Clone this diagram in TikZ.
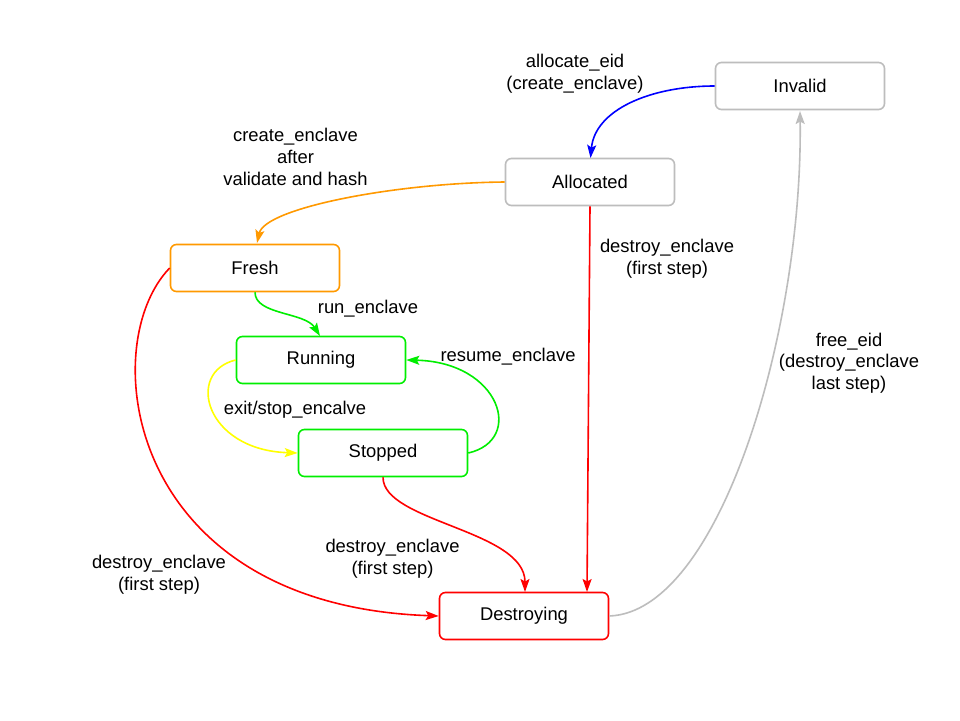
\documentclass[tikz,border=0pt]{standalone}
\usepackage{fontspec}
\setmainfont{Liberation Sans}
\usetikzlibrary{arrows.meta}
\definecolor{cgray}{HTML}{BDBDBD}
\definecolor{cblue}{HTML}{0000FF}
\definecolor{corange}{HTML}{FF9900}
\definecolor{cgreen}{HTML}{00EE00}
\definecolor{cyellow}{HTML}{FFFF00}
\definecolor{cred}{HTML}{FF0000}
\tikzset{
  state/.style={draw, line width=1.6pt, rounded corners=6pt, minimum width=169pt, minimum height=47pt, inner sep=0pt, fill=white},
  lbl/.style={align=center, inner sep=0pt},
  conn/.style={line width=1.6pt, -{Stealth[length=13pt,width=9pt,inset=2.5pt]}},
}
\begin{document}
\begin{tikzpicture}[x=1pt,y=-1pt, font=\fontsize{18.4}{21.7}\selectfont]
\useasboundingbox[fill=white] (0,0) rectangle (960,720);
% states
\node[state, draw=cgray] (invalid) at (800,86) {Invalid};
\node[state, draw=cgray] (allocated) at (590,182) {Allocated};
\node[state, draw=corange] (fresh) at (255,268) {Fresh};
\node[state, draw=cgreen] (running) at (321,360) {Running};
\node[state, draw=cgreen] (stopped) at (383,453) {Stopped};
\node[state, draw=cred] (destroying) at (524,616) {Destroying};
\coordinate (dtop) at (587,592);
\coordinate (atop) at (590.5,158);
\coordinate (ftop) at (257,243);
\coordinate (rtop) at (320,336);
\coordinate (dtop2) at (525,592);
\coordinate (ibot) at (800,111);
% edges
\draw[conn, cblue] (invalid.west) .. controls (650,86) and (595,110) .. (atop);
\draw[conn, corange] (allocated.west) .. controls (395,183) and (265,208) .. (ftop);
\draw[conn, cred] (allocated.south) -- (dtop);
\draw[conn, cgreen] (fresh.south) .. controls (255,315) and (305,312) .. (rtop);
\draw[conn, cyellow] (running.west) .. controls (185,372) and (205,450) .. (stopped.west);
\draw[conn, cgreen] (stopped.east) .. controls (525,440) and (500,362) .. (running.east);
\draw[conn, cred] (stopped.south) .. controls (383,522) and (525,530) .. (dtop2);
\draw[conn, cred] (fresh.west) .. controls (95,345) and (125,605) .. (destroying.west);
\draw[conn, cgray] (destroying.east) .. controls (720,612) and (803,330) .. (ibot);
% labels
\node[lbl] (l1) at (575,74) {allocate\_eid\\(create\_enclave)};
\node[lbl] (l2) at (295.5,157) {create\_enclave\\after\\validate and hash};
\node[lbl] (l3) at (667,259) {destroy\_enclave\\(first step)};
\node[lbl] (l4) at (368,309) {run\_enclave};
\node[lbl] (l5) at (508,357) {resume\_enclave};
\node[lbl] (l6) at (295,410) {exit/stop\_encalve};
\node[lbl] (l7) at (849,363) {free\_eid\\(destroy\_enclave\\last step)};
\node[lbl] (l8) at (392.5,559) {destroy\_enclave\\(first step)};
\node[lbl] (l9) at (159,575) {destroy\_enclave\\(first step)};
\end{tikzpicture}
\end{document}
